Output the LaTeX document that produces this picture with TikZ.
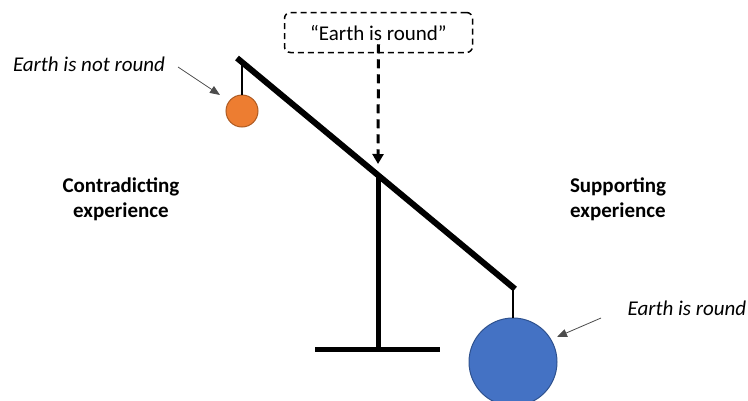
\documentclass[tikz,border=0pt]{standalone}
\usepackage{fontspec}
\setmainfont{Carlito}
\usetikzlibrary{arrows.meta}
\definecolor{orangeball}{HTML}{ED7D31}
\definecolor{orangeedge}{HTML}{AE5A21}
\definecolor{blueball}{HTML}{4472C4}
\definecolor{blueedge}{HTML}{2F528F}
\tikzset{
  thickbar/.style={line width=6pt, line cap=butt},
  stringline/.style={line width=1.5pt},
  pointer/.style={draw=black!70, line width=0.8pt, -{Triangle[length=10pt,width=8pt]}},
  lbl/.style={font=\fontsize{21}{25}\selectfont\itshape, inner sep=0pt},
  side/.style={font=\fontsize{21}{25}\selectfont\bfseries, align=center, inner sep=0pt},
}
\begin{document}
\begin{tikzpicture}[x=1pt,y=-1pt]
\useasboundingbox (0,0) rectangle (748,400);
% beam and stand
\coordinate (bL) at (237,58);
\coordinate (bR) at (515,289);
\coordinate (pivot) at (378,176);
\coordinate (foot) at (378,349);
\coordinate (baseL) at (315,349);
\coordinate (baseR) at (440,349);
\draw[line width=5pt] (pivot) -- (foot);
\draw[line width=5pt] (baseL) -- (baseR);
\draw[thickbar] (bL) -- (bR);
% balls
\node[circle, draw=orangeedge, fill=orangeball, line width=1pt, minimum size=32pt, inner sep=0pt] (small) at (242,111) {};
\node[circle, draw=blueedge, fill=blueball, line width=1pt, minimum size=88pt, inner sep=0pt] (big) at (513,362) {};
\coordinate (sTop) at (242,61);
\coordinate (bTop) at (513,288);
\draw[stringline] (sTop) -- (small.north);
\draw[stringline] (bTop) -- (big.north);
% claim box
\node[draw, dashed, line width=1.5pt, dash pattern=on 6pt off 4pt, rounded corners=6pt, minimum width=188pt, minimum height=40pt, font=\fontsize{21}{25}\selectfont] (claim) at (378.5,32.5) {“Earth is round”};
\coordinate (arrTip) at (378,164);
\draw[line width=3pt, dash pattern=on 9pt off 6pt, -{Triangle[length=10pt,width=11pt]}] ([yshift=9pt]claim.south) -- (arrTip);
% labels
\node[lbl] (notround) at (89,64) {Earth is not round};
\coordinate (p1) at (178,67);
\coordinate (p1t) at (220,95);
\draw[pointer] (p1) -- (p1t);
\node[lbl] (round) at (687,308) {Earth is round};
\coordinate (p2) at (601,318);
\coordinate (p2t) at (557,337);
\draw[pointer] (p2) -- (p2t);
\node[side] (contra) at (121,199) {Contradicting\\experience};
\node[side] (support) at (618,199) {Supporting\\experience};
\end{tikzpicture}
\end{document}
